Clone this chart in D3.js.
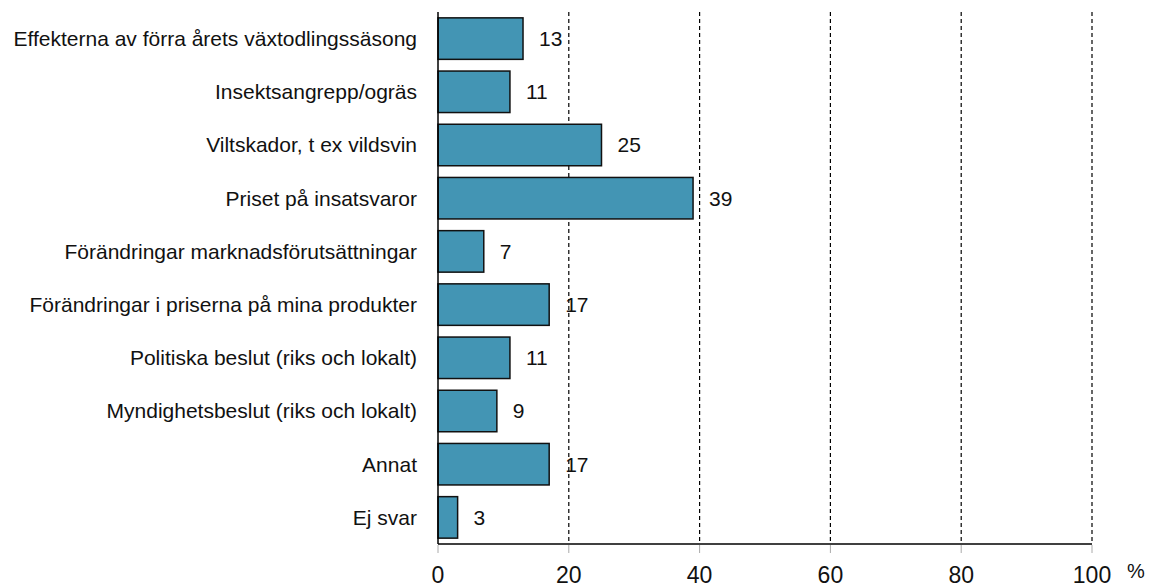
<!DOCTYPE html>
<html lang="sv">
<head>
<meta charset="UTF-8">
<title>Orsaker</title>
<script src="https://d3js.org/d3.v7.min.js"></script>
<style>
  body { margin: 0; background: #fff; }
  text { font-family: "Liberation Sans", Arial, sans-serif; fill: #111; }
</style>
</head>
<body>
<svg id="chart" width="1151" height="588"></svg>
<script>
// data
const categories = [
    "Effekterna av förra årets växtodlingssäsong",
    "Insektsangrepp/ogräs",
    "Viltskador, t ex vildsvin",
    "Priset på insatsvaror",
    "Förändringar marknadsförutsättningar",
    "Förändringar i priserna på mina produkter",
    "Politiska beslut (riks och lokalt)",
    "Myndighetsbeslut (riks och lokalt)",
    "Annat",
    "Ej svar"
];
const values = [13, 11, 25, 39, 7, 17, 11, 9, 17, 3];
const xTicks = [0, 20, 40, 60, 80, 100];

const svg = d3.select('#chart');
const plotLeft = 438, plotRight = 1092, plotTop = 12, plotBottom = 544;

const x = d3.scaleLinear().domain([0, 100]).range([plotLeft, plotRight]);
const y = d3.scaleBand().domain(categories).range([plotTop, plotBottom])
    .paddingInner(0.22).paddingOuter(0.11);

// dashed gridlines
svg.selectAll('line.grid')
    .data(xTicks.filter(d => d > 0))
    .enter().append('line')
    .attr('class', 'grid')
    .attr('x1', d => x(d)).attr('x2', d => x(d))
    .attr('y1', plotTop).attr('y2', plotBottom)
    .attr('stroke', '#000')
    .attr('stroke-width', 1.2)
    .attr('stroke-dasharray', '4,3');

// bars
svg.selectAll('rect.bar')
    .data(values)
    .enter().append('rect')
    .attr('class', 'bar')
    .attr('x', x(0))
    .attr('y', (d, i) => y(categories[i]))
    .attr('width', d => x(d) - x(0))
    .attr('height', y.bandwidth())
    .attr('fill', '#4395b4')
    .attr('stroke', '#111')
    .attr('stroke-width', 1.5);

// value labels
svg.selectAll('text.val')
    .data(values)
    .enter().append('text')
    .attr('class', 'val')
    .attr('x', d => x(d) + 16)
    .attr('y', (d, i) => y(categories[i]) + y.bandwidth() / 2)
    .attr('dy', '0.35em')
    .style('font-size', '21px')
    .text(d => d);

// category labels
svg.selectAll('text.cat')
    .data(categories)
    .enter().append('text')
    .attr('class', 'cat')
    .attr('x', plotLeft - 21)
    .attr('y', d => y(d) + y.bandwidth() / 2)
    .attr('dy', '0.35em')
    .attr('text-anchor', 'end')
    .style('font-size', '21px')
    .text(d => d);

// axes lines
svg.append('line')
    .attr('x1', plotLeft).attr('x2', plotLeft)
    .attr('y1', plotTop).attr('y2', plotBottom)
    .attr('stroke', '#000').attr('stroke-width', 1.5);
svg.append('line')
    .attr('x1', plotLeft).attr('x2', plotRight)
    .attr('y1', plotBottom).attr('y2', plotBottom)
    .attr('stroke', '#000').attr('stroke-width', 1.5);

// x ticks
svg.selectAll('line.tick')
    .data(xTicks)
    .enter().append('line')
    .attr('class', 'tick')
    .attr('x1', d => x(d)).attr('x2', d => x(d))
    .attr('y1', plotBottom + 1).attr('y2', plotBottom + 9)
    .attr('stroke', '#aaa').attr('stroke-width', 1);

svg.selectAll('text.tl')
    .data(xTicks)
    .enter().append('text')
    .attr('class', 'tl')
    .attr('x', d => x(d))
    .attr('y', 575)
    .attr('dy', '0.35em')
    .attr('text-anchor', 'middle')
    .style('font-size', '23px')
    .text(d => d);

svg.append('text')
    .attr('x', 1127)
    .attr('y', 571)
    .attr('dy', '0.35em')
    .style('font-size', '20px')
    .text('%');
</script>
</body>
</html>
